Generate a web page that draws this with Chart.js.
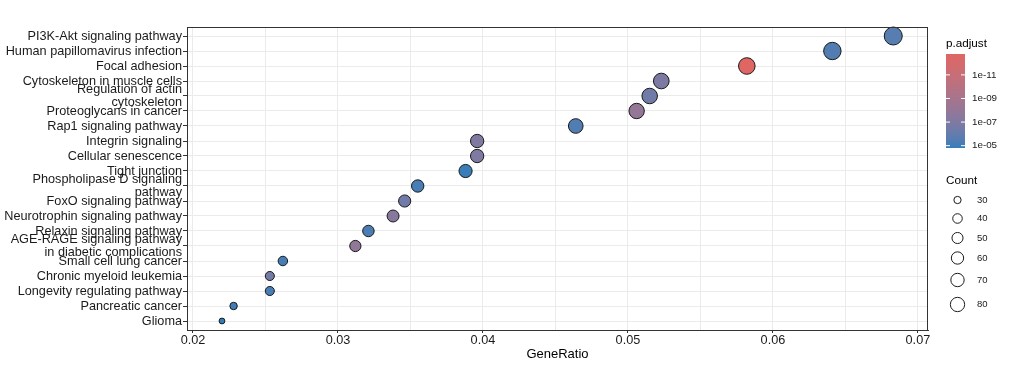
<!DOCTYPE html>
<html>
<head>
<meta charset="utf-8">
<script src="https://cdn.jsdelivr.net/npm/chart.js@4"></script>
<style>
  body { margin: 0; background: #fff; }
</style>
</head>
<body>
<canvas id="dot" width="1009" height="366"></canvas>
<script>
// KEGG-Anreicherung, Punktdiagramm (von oben nach unten)
const categories = [
  'PI3K-Akt signaling pathway',
  'Human papillomavirus infection',
  'Focal adhesion',
  'Cytoskeleton in muscle cells',
  ['Regulation of actin', 'cytoskeleton'],
  'Proteoglycans in cancer',
  'Rap1 signaling pathway',
  'Integrin signaling',
  'Cellular senescence',
  'Tight junction',
  ['Phospholipase D signaling', 'pathway'],
  'FoxO signaling pathway',
  'Neurotrophin signaling pathway',
  'Relaxin signaling pathway',
  ['AGE-RAGE signaling pathway', 'in diabetic complications'],
  'Small cell lung cancer',
  'Chronic myeloid leukemia',
  'Longevity regulating pathway',
  'Pancreatic cancer',
  'Glioma'
];
const geneRatio = [0.0683, 0.0641, 0.0582, 0.0523, 0.0515, 0.0506, 0.0464, 0.0396, 0.0396, 0.0388,
                   0.0355, 0.0346, 0.0338, 0.0321, 0.0312, 0.0262, 0.0253, 0.0253, 0.0228, 0.0220];
const counts = [81, 76, 69, 62, 61, 60, 55, 47, 47, 46, 42, 41, 40, 38, 37, 31, 30, 30, 27, 26];
const pAdjust = [2.5e-6, 3.6e-6, 1.7e-13, 1.3e-7, 4.0e-7, 1.0e-8, 3.6e-6, 9.0e-8, 1.0e-7, 1.2e-5,
                 6.0e-6, 4.0e-7, 4.5e-8, 5.2e-6, 1.5e-8, 7.0e-6, 2.8e-7, 6.0e-6, 8.5e-6, 1.58e-5];
const colorTicks = [1e-11, 1e-9, 1e-7, 1e-5];
const colorTickLabels = ['1e-11', '1e-09', '1e-07', '1e-05'];
const legendCounts = [30, 40, 50, 60, 70, 80];

const FONT = 'Liberation Sans, Arial, sans-serif';
const LOW = '#e06663', HIGH = '#327eba';

// Lab-Interpolation wie ggplot
function toLab(hex) {
  const c = [1, 3, 5].map(i => parseInt(hex.slice(i, i + 2), 16) / 255)
    .map(v => v <= 0.04045 ? v / 12.92 : Math.pow((v + 0.055) / 1.055, 2.4));
  const X = (c[0] * 0.4124 + c[1] * 0.3576 + c[2] * 0.1805) / 0.95047;
  const Y = c[0] * 0.2126 + c[1] * 0.7152 + c[2] * 0.0722;
  const Z = (c[0] * 0.0193 + c[1] * 0.1192 + c[2] * 0.9505) / 1.08883;
  const f = t => t > 0.008856 ? Math.cbrt(t) : 7.787 * t + 16 / 116;
  return [116 * f(Y) - 16, 500 * (f(X) - f(Y)), 200 * (f(Y) - f(Z))];
}
function fromLab(L, a, b) {
  const fy = (L + 16) / 116, fx = fy + a / 500, fz = fy - b / 200;
  const fi = t => t * t * t > 0.008856 ? t * t * t : (t - 16 / 116) / 7.787;
  const X = fi(fx) * 0.95047, Y = fi(fy), Z = fi(fz) * 1.08883;
  const rgb = [3.2406 * X - 1.5372 * Y - 0.4986 * Z,
               -0.9689 * X + 1.8758 * Y + 0.0415 * Z,
               0.0557 * X - 0.2040 * Y + 1.0570 * Z];
  return 'rgb(' + rgb.map(v => {
    v = v <= 0.0031308 ? 12.92 * v : 1.055 * Math.pow(v, 1 / 2.4) - 0.055;
    return Math.round(Math.max(0, Math.min(1, v)) * 255);
  }).join(',') + ')';
}
const labLow = toLab(LOW), labHigh = toLab(HIGH);
const logMin = Math.log10(Math.min(...pAdjust));
const logMax = Math.log10(Math.max(...pAdjust));
function colorAt(t) {
  return fromLab(...labLow.map((v, i) => v + (labHigh[i] - v) * t));
}
function pColor(p) {
  return colorAt((Math.log10(p) - logMin) / (logMax - logMin));
}

const cMin = Math.min(...counts), cMax = Math.max(...counts);
function sizeOf(c) {
  return 2.9 + 6.1 * Math.sqrt((c - cMin) / (cMax - cMin));
}

const isMajor = v => Math.abs(v * 100 - Math.round(v * 100)) < 1e-6;

const legendPlugin = {
  id: 'ggLegend',
  afterDraw(chart) {
    const ctx = chart.ctx;
    const a = chart.chartArea;
    ctx.save();
    // Panel-Rahmen
    ctx.strokeStyle = '#333';
    ctx.lineWidth = 1;
    ctx.strokeRect(Math.round(a.left) + 0.5, Math.round(a.top) + 0.5,
                   Math.round(a.right - a.left) - 1, Math.round(a.bottom - a.top));

    // Farbbalken p.adjust
    ctx.fillStyle = '#000';
    ctx.font = '11.7px ' + FONT;
    ctx.textBaseline = 'middle';
    ctx.textAlign = 'left';
    ctx.fillText('p.adjust', 946, 44);
    const bx = 946, bw = 19, by = 54, bh = 94;
    for (let i = 0; i < bh; i++) {
      ctx.fillStyle = colorAt((i + 0.5) / bh);
      ctx.fillRect(bx, by + i, bw, 1);
    }
    ctx.font = '9.8px ' + FONT;
    colorTicks.forEach((p, i) => {
      const y = by + (Math.log10(p) - logMin) / (logMax - logMin) * bh;
      ctx.strokeStyle = '#fff';
      ctx.beginPath();
      ctx.moveTo(bx, y); ctx.lineTo(bx + 4, y);
      ctx.moveTo(bx + bw - 4, y); ctx.lineTo(bx + bw, y);
      ctx.stroke();
      ctx.fillStyle = '#1a1a1a';
      ctx.fillText(colorTickLabels[i], 972, y);
    });

    // Groessenlegende Count
    ctx.fillStyle = '#000';
    ctx.font = '11.7px ' + FONT;
    ctx.fillText('Count', 946, 181);
    const ys = [200, 218.5, 238, 258, 280, 304.5];
    ctx.font = '9.5px ' + FONT;
    legendCounts.forEach((c, i) => {
      ctx.beginPath();
      ctx.arc(957.5, ys[i], sizeOf(c) * 0.8, 0, Math.PI * 2);
      ctx.strokeStyle = '#1a1a1a';
      ctx.lineWidth = 1;
      ctx.stroke();
      ctx.fillStyle = '#1a1a1a';
      ctx.fillText(String(c), 977, ys[i]);
    });
    ctx.restore();
  }
};

new Chart(document.getElementById('dot'), {
  type: 'scatter',
  data: {
    datasets: [{
      data: geneRatio.map((g, i) => ({ x: g, y: i })),
      backgroundColor: pAdjust.map(pColor),
      borderColor: '#1a1a1a',
      borderWidth: 1,
      pointRadius: counts.map(sizeOf),
      pointHoverRadius: counts.map(sizeOf),
      clip: false
    }]
  },
  options: {
    responsive: false,
    animation: false,
    devicePixelRatio: 1,
    events: [],
    layout: { padding: { top: 27, right: 81, bottom: 0, left: 0 } },
    plugins: { legend: { display: false }, tooltip: { enabled: false } },
    scales: {
      x: {
        type: 'linear',
        min: 0.019587,
        max: 0.070696,
        afterFit: s => { s.height = 36; },
        ticks: {
          stepSize: 0.005,
          includeBounds: false,
          autoSkip: false,
          maxRotation: 0,
          padding: 0,
          color: '#1a1a1a',
          font: { family: FONT, size: 12.7 },
          callback: v => isMajor(v) ? v.toFixed(2) : ''
        },
        grid: {
          color: '#ebebeb',
          tickLength: 3,
          tickColor: ctx => ctx.tick && isMajor(ctx.tick.value) ? '#333' : 'rgba(0,0,0,0)'
        },
        border: { color: '#333' },
        title: {
          display: true,
          text: 'GeneRatio',
          color: '#000',
          font: { family: FONT, size: 13 },
          padding: { top: 0, bottom: 4 }
        }
      },
      y: {
        type: 'linear',
        reverse: true,
        min: -0.6,
        max: 19.6,
        afterFit: s => { s.width = 187; },
        ticks: {
          stepSize: 1,
          includeBounds: false,
          autoSkip: false,
          padding: 1,
          color: '#1a1a1a',
          font: { family: FONT, size: 12.7, lineHeight: 1.1 },
          callback: v => categories[v]
        },
        grid: { color: '#ebebeb', tickLength: 4, tickColor: '#333' },
        border: { color: '#333' }
      }
    }
  },
  plugins: [legendPlugin]
});
</script>
</body>
</html>
